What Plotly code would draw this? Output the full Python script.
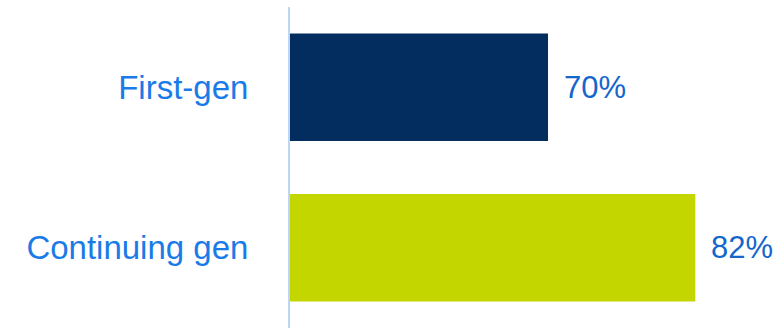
import plotly.graph_objects as go

categories = ["First-gen", "Continuing gen"]
values = [70, 82]
labels = ["70%", "82%"]
bar_colors = ["#022D5E", "#C4D600"]

cat_blue = "#1A7BE8"
val_blue = "#1566CC"
font_family = "Liberation Sans, Arial, sans-serif"

fig = go.Figure()
fig.add_trace(go.Bar(
    y=categories,
    x=values,
    orientation="h",
    marker=dict(color=bar_colors, line=dict(width=0)),
    hoverinfo="skip",
))

for c, v, t in zip(categories, values, labels):
    fig.add_annotation(
        x=v, y=c, text=t, showarrow=False,
        xanchor="left", yanchor="middle", xshift=14,
        font=dict(family=font_family, size=31, color=val_blue),
    )

fig.update_layout(
    width=773, height=328,
    margin=dict(l=290, r=0, t=7, b=0),
    paper_bgcolor="white", plot_bgcolor="white",
    bargap=0.331,
    showlegend=False,
    xaxis=dict(range=[48.98, 88.33], visible=False, fixedrange=True),
    yaxis=dict(
        categoryorder="array", categoryarray=categories,
        autorange="reversed",
        showline=True, linecolor="#BDD6F5", linewidth=2,
        showgrid=False, zeroline=False, ticks="",
        ticklabelstandoff=33,
        tickfont=dict(family=font_family, size=33, color=cat_blue),
    ),
)

fig.write_html("out.html")
